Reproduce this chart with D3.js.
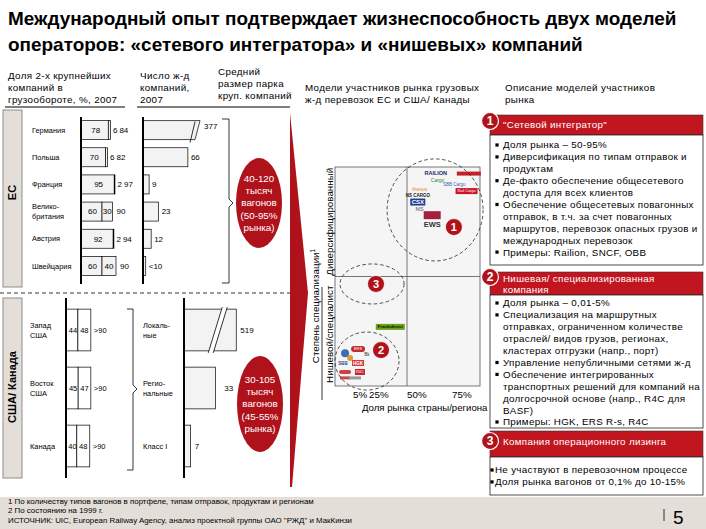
<!DOCTYPE html>
<html><head><meta charset="utf-8">
<script src="https://cdn.jsdelivr.net/npm/d3@7"></script>
<style>body{margin:0;background:#fff} svg{display:block} text{font-family:"Liberation Sans",Arial,sans-serif}</style>
</head><body><svg id="c" width="706" height="529"></svg>
<script>
// ---------------- DATA ----------------
const title = ["Международный опыт подтверждает жизнеспособность двух моделей",
               "операторов: «сетевого интегратора» и «нишевых» компаний"];
const euCountries = ["Германия","Польша","Франция","Велико-|британия","Австрия","Швейцария"];
const euTop1 = [78,70,95,60,92,60];
const euTop2 = [6,6,2,30,2,40];
const euTotal = ["84","82","97","90","94","90"];
const euCompanies = [377,66,9,23,12,4];
const euCompanyLabels = ["377","66","9","23","12","<10"];
const usRegions = ["Запад|США","Восток|США","Канада"];
const usTop1 = [44,45,40];
const usTop2 = [48,47,48];
const usTotal = [">90",">90",">90"];
const usTypes = ["Локаль-|ные","Регио-|нальные","Класс I"];
const usCompanies = [519,33,7];
const ellipseEU = ["40-120","тысяч","вагонов","(50-95%","рынка)"];
const ellipseUS = ["30-105","тысяч","вагонов","(45-55%","рынка)"];
const shareTicks = [5,25,50,75];
// companies on the share / specialisation map
const logos = [
  {k:"RAILION", t:"RAILION", s:66, d:97},
  {k:"ITL", t:"", s:90, d:97},
  {k:"Cargo", t:"Cargo", s:67, d:94},
  {k:"SBB", t:"SBB Cargo", s:77, d:92},
  {k:"RCA", t:"Rail Cargo", s:88, d:89},
  {k:"rhenus", t:"rhenus", s:57, d:90},
  {k:"NS", t:"NS CARGO", s:56, d:87},
  {k:"CSX", t:"CSX", s:56, d:84},
  {k:"NSC", t:"NS", s:57, d:81},
  {k:"DB", t:"", s:64, d:78},
  {k:"EWS", t:"EWS", s:64, d:74},
  {k:"FD", t:"Frachtdienst", s:39, d:27},
  {k:"n1", t:"", s:2.8, d:15},
  {k:"n2", t:"ERS", s:11.3, d:16.9},
  {k:"n3", t:"", s:4.2, d:12.8},
  {k:"n4", t:"Bk", s:22.5, d:14.2},
  {k:"n5", t:"SBB", s:2.2, d:10.5},
  {k:"n6", t:"HGK", s:11.3, d:10.5},
  {k:"n7", t:"", s:2.8, d:6.4},
  {k:"n8", t:"R4C", s:13.7, d:6.4},
  {k:"n9", t:"", s:2.8, d:3.7},
  {k:"n10", t:"", s:7.5, d:3.7}
];
const clusters = [
  {n:"1", s:65.6, d:80.4, ns:76.7, nd:72.6},
  {n:"3", s:27, d:46.6, ns:29.6, nd:46.6},
  {n:"2", s:22.5, d:11.4, ns:32.9, nd:16.4}
];
const box1 = ["Доля рынка – 50-95%","Диверсификация по типам отправок и|продуктам","Де-факто обеспечение общесетевого|доступа для всех клиентов","Обеспечение общесетевых повагонных|отправок, в т.ч. за счет повагонных|маршрутов, перевозок опасных грузов и|международных перевозок","Примеры: Railion, SNCF, OBB"];
const box2 = ["Доля рынка – 0,01-5%","Специализация на маршрутных|отправках, ограниченном количестве|отраслей/ видов грузов, регионах,|кластерах отгрузки (напр., порт)","Управление непубличными сетями ж-д","Обеспечение интегрированных|транспортных решений для компаний на|долгосрочной основе (напр., R4C для|BASF)","Примеры: HGK, ERS R-s, R4C"];
const box3 = ["Не участвуют в перевозочном процессе","Доля рынка вагонов от 0,1% до 10-15%"];
const footnotes = ["1 По количеству типов вагонов в портфеле, типам отправок, продуктам и регионам",
                   "2 По состоянию на 1999 г.",
                   "ИСТОЧНИК: UIC, European Railway Agency, анализ проектной группы ОАО \"РЖД\" и МакКинзи"];

// ---------------- STYLE ----------------
const RED = "#c1161f", DRED = "#b0121c", PANEL = "#e4ded8", BAR = "#f3f3f3";
const logoStyle = {
  RAILION:{c:"#1b2a6b", fs:5.5, w:"bold"}, ITL:{bg:"#c3202b", bw:24, bh:4},
  Cargo:{c:"#2f8f3a", fs:5}, SBB:{c:"#3a64b5", fs:4.5}, RCA:{bg:"#cc1426", bw:22, bh:6, c:"#fff", fs:3.8},
  rhenus:{c:"#e2892a", fs:5}, NS:{c:"#222", fs:4.5, w:"bold"}, CSX:{bg:"#1f3c92", bw:15, bh:7, c:"#fff", fs:6, w:"bold"},
  NSC:{c:"#888", fs:6, w:"bold"}, DB:{bg:"#a3213e", bw:17, bh:8}, EWS:{c:"#333", fs:7.5, w:"bold"},
  FD:{bg:"#6aa318", bw:29, bh:6, c:"#111", fs:4.2, w:"bold"},
  n1:{bg:"#3a6fb0", bw:8, bh:8, r:4}, n2:{bg:"#c02a30", bw:14, bh:6, r:3, c:"#fff", fs:4},
  n3:{bg:"#e09a30", bw:6, bh:6, r:3}, n4:{c:"#333", fs:4.5}, n5:{c:"#2a4f9a", fs:4.5, w:"bold"},
  n6:{bg:"#d23a3a", bw:12, bh:6, c:"#fff", fs:4.5, w:"bold"}, n7:{bg:"#d04040", bw:12, bh:4, r:2},
  n8:{bg:"#cc2230", bw:10, bh:6, c:"#fff", fs:4}, n9:{bg:"#c84848", bw:10, bh:3}, n10:{bg:"#999", bw:12, bh:3}
};

const svg = d3.select("#c");
function mtext(sel, x, yc, arr, lh, size, o = {}) {
  const t = sel.append("text").attr("font-size", size).attr("fill", o.fill || "#000")
    .attr("text-anchor", o.anchor || "start").attr("font-weight", o.weight || "normal");
  if (o.ls) t.attr("letter-spacing", o.ls);
  const y0 = yc - (arr.length - 1) * lh / 2;
  arr.forEach((s, i) => t.append("tspan").attr("x", x).attr("y", y0 + i * lh).attr("dy", "0.35em").text(s));
  return t;
}

// ---------------- TITLE & HEADERS ----------------
function fitTitle(str, y, target) {
  const t = svg.append("text").attr("x", 8).attr("y", y).attr("font-size", 20).attr("font-weight", "bold")
    .style("font-family", "'Liberation Sans Narrow','Arial Narrow','Liberation Sans',sans-serif").text(str);
  const w = t.node().getComputedTextLength();
  t.attr("font-size", Math.min(24, 20 * target / w));
}
fitTitle(title[0], 25, 669);
fitTitle(title[1], 51, 575);

const HS = 9.8, HLS = 0.35;
mtext(svg, 8, 88, ["Доля 2-х крупнейших","компаний в","грузообороте, %,  2007"], 12, HS, {ls: HLS});
mtext(svg, 140, 88, ["Число ж-д","компаний,","2007"], 12, HS, {ls: HLS});
mtext(svg, 218, 84, ["Средний","размер парка","круп. компаний"], 12, HS, {ls: HLS});
mtext(svg, 305, 94, ["Модели участников рынка грузовых","ж-д перевозок ЕС и США/ Канады"], 12, HS, {ls: HLS});
mtext(svg, 505, 94, ["Описание моделей участников","рынка"], 12, HS, {ls: HLS});
svg.append("line").attr("x1", 5).attr("x2", 125).attr("y1", 107).attr("y2", 107).attr("stroke", "#000");
svg.append("line").attr("x1", 137).attr("x2", 290).attr("y1", 107).attr("y2", 107).attr("stroke", "#000");

// ---------------- SIDE PANELS ----------------
function panel(y0, y1, label, off) {
  svg.append("rect").attr("x", 3).attr("y", y0).attr("width", 19).attr("height", y1 - y0)
    .attr("fill", PANEL).attr("stroke", "#777").attr("stroke-width", 0.8);
  svg.append("text").attr("transform", `translate(16,${(y0 + y1) / 2 + off}) rotate(-90)`)
    .attr("text-anchor", "middle").attr("font-size", 11).attr("font-weight", "bold").text(label);
}
panel(110, 287, "ЕС", -6);
panel(298, 478, "США/ Канада", -1);
svg.append("line").attr("x1", 0).attr("x2", 292).attr("y1", 293).attr("y2", 293)
  .attr("stroke", "#000").attr("stroke-dasharray", "4,3").attr("stroke-width", 0.8);

// ---------------- EU BARS ----------------
const yEU = d3.scaleBand().domain(euCountries).range([116.5, 279.5]).paddingInner(0.3).paddingOuter(0.15);
const shareEU = d3.scaleLinear().domain([0, 100]).range([81, 116]);
const compEU = d3.scaleLinear().domain([0, 100]).range([143, 211]);
const BREAK_EU = 78;
const gEU = svg.append("g");
euCountries.forEach((c, i) => {
  const y = yEU(c), h = yEU.bandwidth(), yc = y + h / 2;
  mtext(gEU, 32, yc, c.split("|"), 10.5, 7.4);
  const x0 = shareEU(0), x1 = shareEU(euTop1[i]), x2 = shareEU(euTop1[i] + euTop2[i]);
  gEU.append("rect").attr("x", x0).attr("y", y).attr("width", x1 - x0).attr("height", h).attr("fill", BAR).attr("stroke", "#000").attr("stroke-width", 0.7);
  gEU.append("rect").attr("x", x1).attr("y", y).attr("width", x2 - x1).attr("height", h).attr("fill", BAR).attr("stroke", "#000").attr("stroke-width", 0.7);
  gEU.append("text").attr("x", (x0 + x1) / 2 + 1).attr("y", yc).attr("dy", "0.35em").attr("text-anchor", "middle").attr("font-size", 8).text(euTop1[i]);
  if (euTop2[i] >= 10) {
    gEU.append("text").attr("x", (x1 + x2) / 2).attr("y", yc).attr("dy", "0.35em").attr("text-anchor", "middle").attr("font-size", 8).text(euTop2[i]);
    gEU.append("text").attr("x", x2 + 4).attr("y", yc).attr("dy", "0.35em").attr("font-size", 8).text(euTotal[i]);
  } else {
    gEU.append("text").attr("x", x2 + 2.5).attr("y", yc).attr("dy", "0.35em").attr("font-size", 8).text(euTop2[i]);
    gEU.append("text").attr("x", x2 + 9).attr("y", yc).attr("dy", "0.35em").attr("font-size", 8).text(euTotal[i]);
  }
  // number of companies
  const v = euCompanies[i];
  const xa = compEU(0);
  if (v > BREAK_EU) {
    const xe = compEU(BREAK_EU);
    gEU.append("path").attr("d", `M${xa},${y}H${xe + 4}L${xe - 1},${y + h}H${xa}Z`).attr("fill", BAR).attr("stroke", "#000").attr("stroke-width", 0.7);
    gEU.append("line").attr("x1", xe - 1).attr("y1", y + 1).attr("x2", xe - 6).attr("y2", y + h + 3).attr("stroke", "#000").attr("stroke-width", 0.8);
    gEU.append("text").attr("x", xe + 8).attr("y", yc - 4).attr("dy", "0.35em").attr("font-size", 8).text(euCompanyLabels[i]);
  } else {
    const xe = compEU(v);
    gEU.append("rect").attr("x", xa).attr("y", y).attr("width", xe - xa).attr("height", h).attr("fill", BAR).attr("stroke", "#000").attr("stroke-width", 0.7);
    gEU.append("text").attr("x", xe + 3).attr("y", yc).attr("dy", "0.35em").attr("font-size", 8).text(euCompanyLabels[i]);
  }
});
gEU.append("line").attr("x1", shareEU(0)).attr("x2", shareEU(0)).attr("y1", 117).attr("y2", 284).attr("stroke", "#000").attr("stroke-width", 2);
gEU.append("line").attr("x1", compEU(0)).attr("x2", compEU(0)).attr("y1", 117).attr("y2", 284).attr("stroke", "#000").attr("stroke-width", 2);
svg.append("path").attr("d", "M222,119H229V199L233,203L229,207V283H222").attr("fill", "none").attr("stroke", "#000").attr("stroke-width", 0.8);

// ---------------- US BARS ----------------
const yUS = d3.scaleBand().domain(usRegions).range([301, 475]).paddingInner(0.28).paddingOuter(0.14);
const shareUS = d3.scaleLinear().domain([0, 100]).range([66, 93]);
const compUS = d3.scaleLinear().domain([0, 100]).range([184, 279]);
const BREAK_US = 55;
const gUS = svg.append("g");
usRegions.forEach((r, i) => {
  const y = yUS(r), h = yUS.bandwidth(), yc = y + h / 2;
  mtext(gUS, 30, yc, r.split("|"), 10, 7.4);
  const x0 = shareUS(0), x1 = shareUS(usTop1[i]), x2 = shareUS(usTop1[i] + usTop2[i]);
  gUS.append("rect").attr("x", x0).attr("y", y).attr("width", x1 - x0).attr("height", h).attr("fill", "#fff").attr("stroke", "#000").attr("stroke-width", 0.7);
  gUS.append("rect").attr("x", x1).attr("y", y).attr("width", x2 - x1).attr("height", h).attr("fill", "#fff").attr("stroke", "#000").attr("stroke-width", 0.7);
  gUS.append("text").attr("x", (x0 + x1) / 2 + 1).attr("y", yc).attr("dy", "0.35em").attr("text-anchor", "middle").attr("font-size", 7.5).text(usTop1[i]);
  gUS.append("text").attr("x", (x1 + x2) / 2).attr("y", yc).attr("dy", "0.35em").attr("text-anchor", "middle").attr("font-size", 7.5).text(usTop2[i]);
  gUS.append("text").attr("x", x2 + 3).attr("y", yc).attr("dy", "0.35em").attr("font-size", 7.5).text(usTotal[i]);
  mtext(gUS, 143, yc, usTypes[i].split("|"), 10, 7.4);
  const v = usCompanies[i], xa = compUS(0);
  const xe = compUS(Math.min(v, BREAK_US));
  gUS.append("rect").attr("x", xa).attr("y", y).attr("width", xe - xa).attr("height", h).attr("fill", BAR).attr("stroke", "#000").attr("stroke-width", 0.7);
  if (v > BREAK_US) {
    const xb = xe - 10;
    gUS.append("path").attr("d", `M${xb - 4},${y - 2}L${xb + 1},${y - 2}L${xb - 13},${y + h + 2}L${xb - 18},${y + h + 2}Z`).attr("fill", "#fff");
    gUS.append("line").attr("x1", xb - 4).attr("y1", y - 2).attr("x2", xb - 18).attr("y2", y + h + 2).attr("stroke", "#000").attr("stroke-width", 0.8);
    gUS.append("line").attr("x1", xb + 1).attr("y1", y - 2).attr("x2", xb - 13).attr("y2", y + h + 2).attr("stroke", "#000").attr("stroke-width", 0.8);
    gUS.append("text").attr("x", xe + 4).attr("y", yc).attr("dy", "0.35em").attr("font-size", 8).text(v);
  } else {
    gUS.append("text").attr("x", xe + (v > 20 ? 9 : 4)).attr("y", yc).attr("dy", "0.35em").attr("font-size", 8).text(v);
  }
});
gUS.append("line").attr("x1", shareUS(0)).attr("x2", shareUS(0)).attr("y1", 298).attr("y2", 478).attr("stroke", "#000").attr("stroke-width", 2);
gUS.append("line").attr("x1", compUS(0)).attr("x2", compUS(0)).attr("y1", 298).attr("y2", 478).attr("stroke", "#000").attr("stroke-width", 2);
svg.append("path").attr("d", "M127,309H133V385L137,389L133,393V470H127").attr("fill", "none").attr("stroke", "#000").attr("stroke-width", 0.8);

// ---------------- RED ELLIPSES & WEDGE ----------------
function redEllipse(cx, cy, rx, ry, arr) {
  svg.append("ellipse").attr("cx", cx).attr("cy", cy).attr("rx", rx).attr("ry", ry).attr("fill", DRED);
  mtext(svg, cx, cy, arr, 12.4, 9.8, {fill: "#fff", anchor: "middle"});
}
redEllipse(259, 203, 23, 45, ellipseEU);
redEllipse(260, 404, 23, 48, ellipseUS);
svg.append("path").attr("d", "M290,113L308,293L292,487L290,487Z").attr("fill", DRED);

// ---------------- MAP ----------------
const xS = d3.scaleLinear().domain([0, 5, 25, 50, 75, 100]).range([335, 353, 369, 407, 452, 480]);
const yS = d3.scaleLinear().domain([0, 100]).range([386, 167]);
const gM = svg.append("g");
gM.append("rect").attr("x", xS(0)).attr("y", yS(100)).attr("width", xS(100) - xS(0)).attr("height", yS(0) - yS(100))
  .attr("fill", "#f5f5f5").attr("stroke", "#555").attr("stroke-width", 0.8);
gM.append("line").attr("x1", xS(50)).attr("x2", xS(50)).attr("y1", yS(0)).attr("y2", yS(100)).attr("stroke", "#555").attr("stroke-width", 0.8);
gM.append("line").attr("x1", xS(0)).attr("x2", xS(100)).attr("y1", yS(50)).attr("y2", yS(50)).attr("stroke", "#555").attr("stroke-width", 0.8);
gM.selectAll(".tk").data(shareTicks).join("text").attr("x", d => xS(d)).attr("y", 398).attr("font-size", 9.8).text(d => d + "%");
gM.append("text").attr("x", 362).attr("y", 411).attr("font-size", 9.6).text("Доля рынка страны/региона");
gM.append("text").attr("transform", `translate(333,${(yS(100) + yS(50)) / 2}) rotate(-90)`).attr("text-anchor", "middle").attr("font-size", 9.8).text("Диверсифицированный");
gM.append("text").attr("transform", `translate(333,${(yS(50) + yS(0)) / 2 + 3}) rotate(-90)`).attr("text-anchor", "middle").attr("font-size", 9.8).text("Нишевой/специалист");
const st = gM.append("text").attr("transform", "translate(319,306) rotate(-90)").attr("text-anchor", "middle").attr("font-size", 9.8);
st.append("tspan").text("Степень специализации");
st.append("tspan").attr("font-size", 6.5).attr("dy", -4).text("1");
gM.append("line").attr("x1", 322).attr("x2", 322).attr("y1", 287).attr("y2", 400).attr("stroke", "#000").attr("stroke-width", 0.8);

// logos
logos.forEach(l => {
  const s = logoStyle[l.k], x = xS(l.s), y = yS(l.d);
  if (s.bg) gM.append("rect").attr("x", x - s.bw / 2).attr("y", y - s.bh / 2).attr("width", s.bw).attr("height", s.bh).attr("rx", s.r || 0).attr("fill", s.bg);
  if (l.t) gM.append("text").attr("x", x).attr("y", y).attr("dy", "0.35em").attr("text-anchor", "middle")
    .attr("font-size", s.fs).attr("font-weight", s.w || "normal").attr("fill", s.c || "#000").text(l.t);
});
// cluster ellipses
const clR = {"1": [48, 51], "3": [32, 20], "2": [32, 29]};
clusters.forEach(c => {
  gM.append("ellipse").attr("cx", xS(c.s)).attr("cy", yS(c.d)).attr("rx", clR[c.n][0]).attr("ry", clR[c.n][1])
    .attr("fill", "none").attr("stroke", "#222").attr("stroke-width", 0.8).attr("stroke-dasharray", "3.5,2.5");
});
clusters.forEach(c => {
  gM.append("circle").attr("cx", xS(c.ns)).attr("cy", yS(c.nd)).attr("r", 8.5).attr("fill", DRED).attr("stroke", "#fff").attr("stroke-width", 0.8);
  gM.append("text").attr("x", xS(c.ns)).attr("y", yS(c.nd)).attr("dy", "0.36em").attr("text-anchor", "middle").attr("font-size", 11).attr("font-weight", "bold").attr("fill", "#fff").text(c.n);
});

// ---------------- RIGHT BOXES ----------------
function box(num, headLines, hy0, hy1, body, by1, o = {}) {
  const x0 = 490, x1 = 703;
  svg.append("rect").attr("x", x0).attr("y", hy0).attr("width", x1 - x0).attr("height", hy1 - hy0).attr("fill", RED).attr("stroke", "#333").attr("stroke-width", 0.6);
  svg.append("rect").attr("x", x0).attr("y", hy1).attr("width", x1 - x0).attr("height", by1 - hy1).attr("fill", "#fff").attr("stroke", "#222").attr("stroke-width", 0.8);
  const cy = o.cy;
  svg.append("circle").attr("cx", 490).attr("cy", cy).attr("r", 8.5).attr("fill", DRED).attr("stroke", "#fff").attr("stroke-width", 1.2);
  svg.append("text").attr("x", 490).attr("y", cy).attr("dy", "0.36em").attr("text-anchor", "middle").attr("font-size", 12).attr("font-weight", "bold").attr("fill", "#fff").text(num);
  mtext(svg, 503, o.hc, headLines, 11, 9.8, {fill: "#fff", ls: 0.3});
  let y = o.b0;
  const bx = o.bx || 497, tx = o.tx || 503;
  body.forEach(item => {
    svg.append("rect").attr("x", bx - 1.6).attr("y", y - 1.6).attr("width", 3.2).attr("height", 3.2).attr("fill", "#000");
    item.split("|").forEach(line => {
      svg.append("text").attr("x", tx).attr("y", y).attr("dy", "0.35em").attr("font-size", 9.8).attr("letter-spacing", 0.3).text(line);
      y += 11.9;
    });
  });
}
box("1", ["\"Сетевой интегратор\""], 115, 135, box1, 265, {cy: 121, hc: 125, b0: 145});
box("2", ["Нишевая/ специализированная", "компания"], 272, 295, box2, 428, {cy: 277, hc: 284.5, b0: 303});
box("3", ["Компания операционного лизинга"], 431, 457, box3, 495, {cy: 441, hc: 442, b0: 470, bx: 492, tx: 495});

// ---------------- FOOTER ----------------
svg.append("rect").attr("x", 0).attr("y", 497).attr("width", 706).attr("height", 32).attr("fill", PANEL);
footnotes.forEach((f, i) => svg.append("text").attr("x", 8).attr("y", 501 + i * 9.6).attr("dy", "0.35em").attr("font-size", 7.9).text(f));
svg.append("line").attr("x1", 664).attr("x2", 664).attr("y1", 509).attr("y2", 521).attr("stroke", "#000").attr("stroke-width", 0.8);
svg.append("text").attr("x", 673).attr("y", 524).attr("font-size", 19).attr("font-family", "Liberation Serif, serif").text("5");
</script></body></html>
